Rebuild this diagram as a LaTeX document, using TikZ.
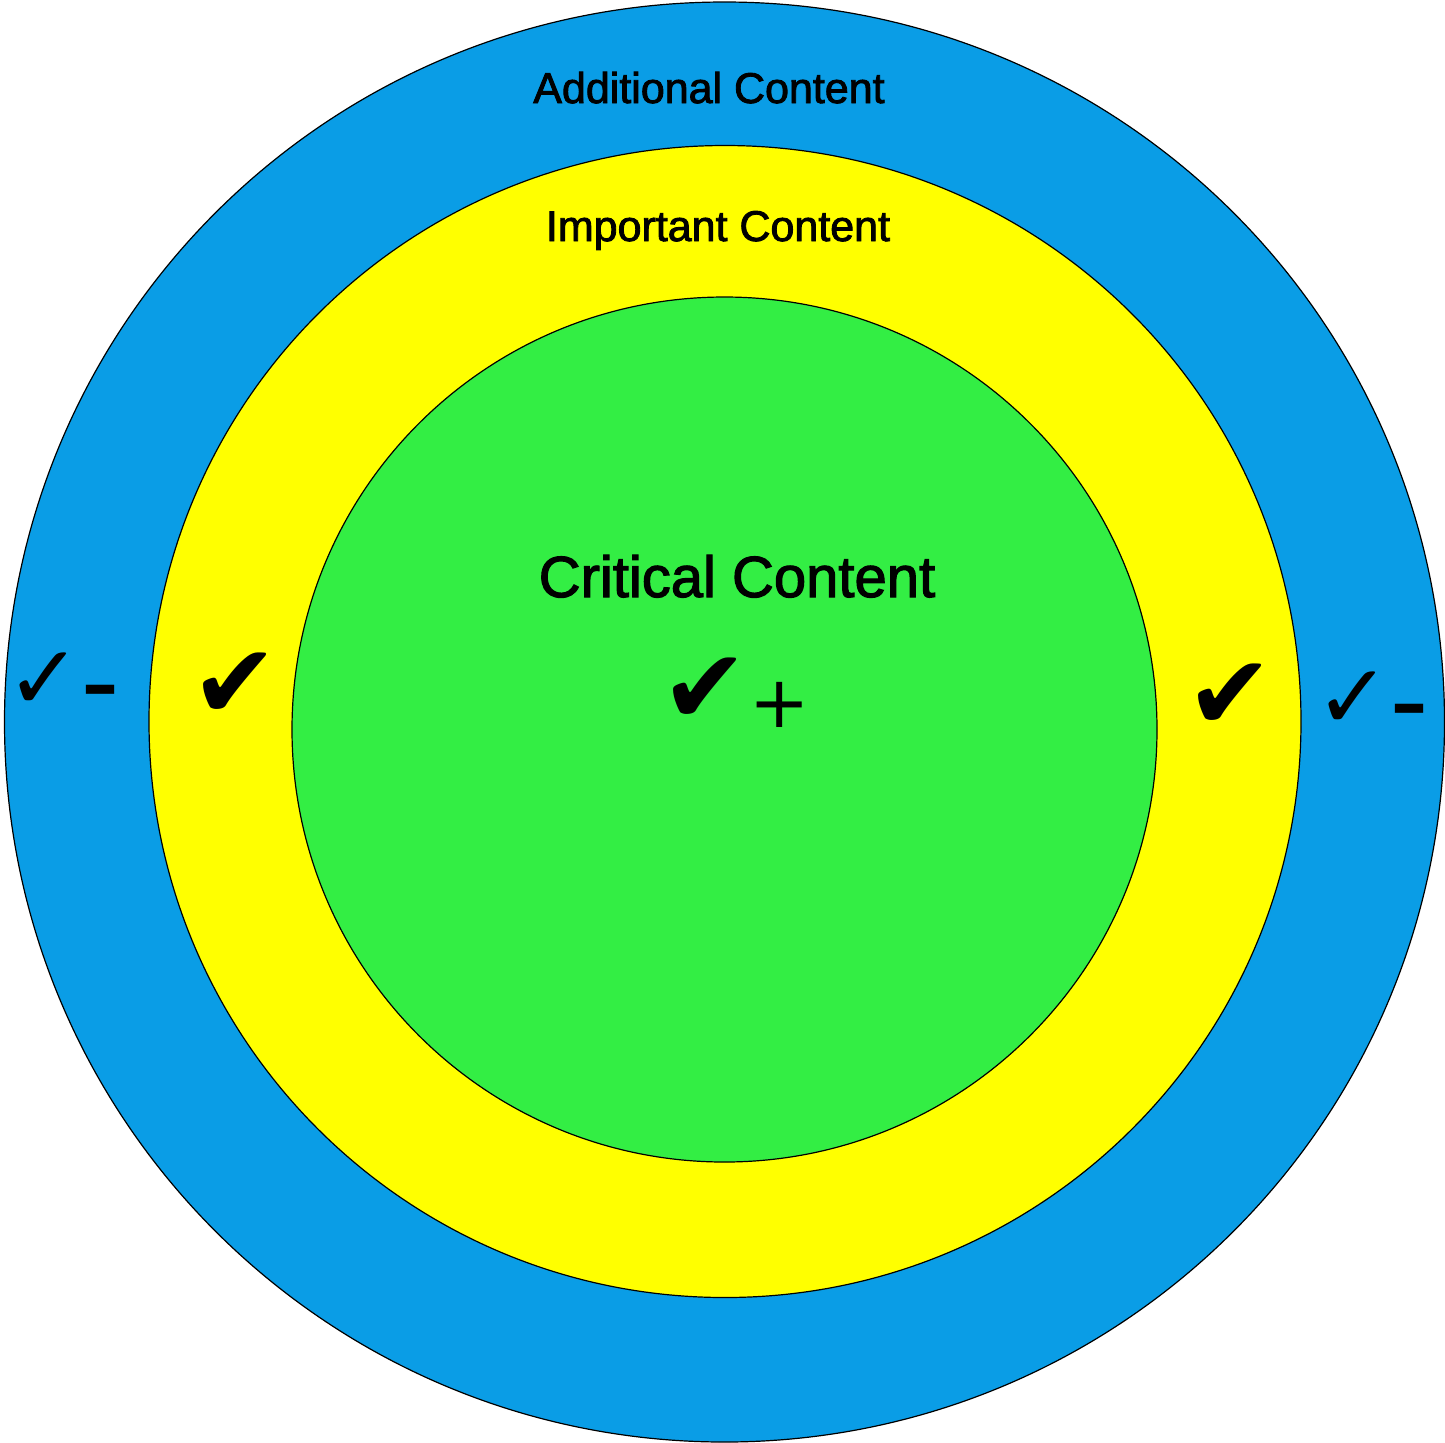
\documentclass[tikz,border=0pt]{standalone}
\usepackage{fontspec}
\setmainfont{Liberation Sans}
\newfontfamily\labelfont[FakeBold=2]{Liberation Sans}
\newfontfamily\symfont{DejaVu Sans}
\usepackage{tikz}
\usetikzlibrary{calc}

\definecolor{ringblue}{RGB}{10,157,230}
\definecolor{ringyellow}{RGB}{255,255,0}
\definecolor{ringgreen}{RGB}{51,238,68}

\newcommand{\checkminus}{{\fontsize{45}{50}\selectfont ✓}{\bfseries\fontsize{36}{40}\selectfont –}}
\newcommand{\checkplus}{{\fontsize{52}{56}\selectfont ✔}\raisebox{-2pt}{\fontsize{36}{40}\selectfont +}}

\begin{document}
\begin{tikzpicture}[x=0.5pt,y=-0.5pt,
    ring/.style={draw=black,line width=0.6pt},
    title/.style={anchor=base,inner sep=0pt,font=\labelfont\fontsize{21.5}{26}\selectfont},
    bigcheck/.style={anchor=base,inner sep=0pt,font=\symfont\fontsize{52}{56}\selectfont},
    tick/.style={anchor=base west,inner sep=0pt,font=\symfont}]
          %\draw[help lines] (0,0) grid[step=100] (1445,1442);
          \useasboundingbox (0,0) rectangle (1445,1442);
          %RINGS
          \coordinate (O) at (724.5,722);
          \coordinate (Oi) at (724.5,729.5);
          \fill[ring,fill=ringblue] (O) circle[radius=360pt];
          \fill[ring,fill=ringyellow] (725,721.5) circle[radius=288pt];
          \fill[ring,fill=ringgreen] (Oi) circle[radius=216.25pt];
          %TITLES
          \node[title] (add) at (709,103) {Additional Content};
          \node[title] (imp) at (718,241) {Important Content};
          \node[title,font=\labelfont\fontsize{29}{34}\selectfont] (crit) at (737,597) {Critical Content};
          %MARKS
          \node[tick] (addL) at (6.5,709) {\checkminus};
          \node[bigcheck] (impL) at (235,718) {✔};
          \node[tick] (critM) at (661.5,723) {\checkplus};
          \node[bigcheck] (impR) at (1230,729) {✔};
          \node[tick] (addR) at (1315.5,728) {\checkminus};
\end{tikzpicture}
\end{document}
